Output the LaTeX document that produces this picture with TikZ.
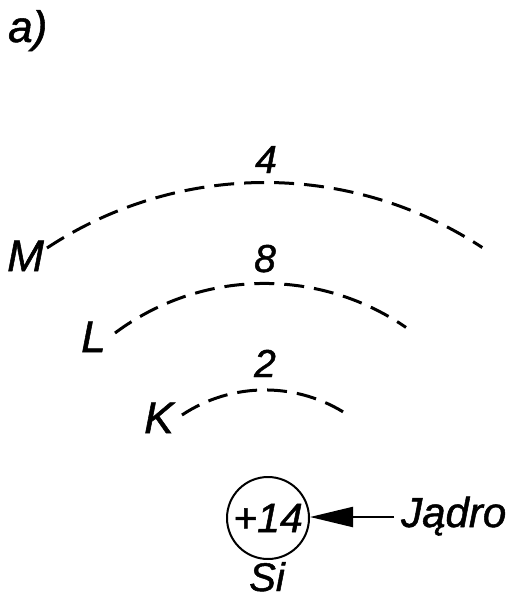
\documentclass[tikz,border=0pt]{standalone}
\usepackage{fontspec}
\setmainfont{Liberation Sans}[ItalicFeatures={FakeBold=1.2}]
\usetikzlibrary{arrows.meta}
\tikzset{
  lbl/.style={inner sep=0pt, font=\itshape\fontsize{44}{50}\selectfont},
  num/.style={inner sep=0pt, font=\itshape\fontsize{39}{45}\selectfont},
  big/.style={inner sep=0pt, font=\itshape\fontsize{42}{48}\selectfont},
  shell/.style={line width=3pt, dash pattern=on 20pt off 10pt},
}
\begin{document}
\begin{tikzpicture}[x=1pt,y=1pt]
\useasboundingbox (0,0) rectangle (516,-599);
% title
\node[lbl, anchor=base west] (title) at (8,-42) {a)};
% shells
\draw[shell] (47,-248) arc[start angle=123.45, end angle=56.67, radius=395.5];
\draw[shell] (115,-333) arc[start angle=126.7, end angle=55.5, radius=250];
\draw[shell] (182,-415) arc[start angle=123.6, end angle=56.4, radius=150];
% shell labels
\node[lbl, anchor=base west] (M) at (7,-271) {M};
\node[lbl, anchor=base west] (L) at (81,-352) {L};
\node[lbl, anchor=base west] (K) at (144,-433) {K};
\node[num, anchor=base] (n4) at (266,-173) {4};
\node[num, anchor=base] (n8) at (265,-272) {8};
\node[num, anchor=base] (n2) at (265,-377) {2};
% nucleus
\node[circle, draw, line width=2pt, minimum size=82pt, inner sep=0pt,
      font=\itshape\fontsize{41}{46}\selectfont] (nuc) at (268,-518) {+14};
\node[inner sep=0pt, font=\itshape\fontsize{40}{46}\selectfont, anchor=base] (si) at (267,-591) {Si};
\node[big, anchor=base west] (jadro) at (401,-527) {Jądro};
\coordinate (tail) at (394,-517);
\draw[line width=2.2pt, -{Triangle[length=43pt,width=20pt]}] (tail) -- (nuc.east |- tail);
\end{tikzpicture}
\end{document}
